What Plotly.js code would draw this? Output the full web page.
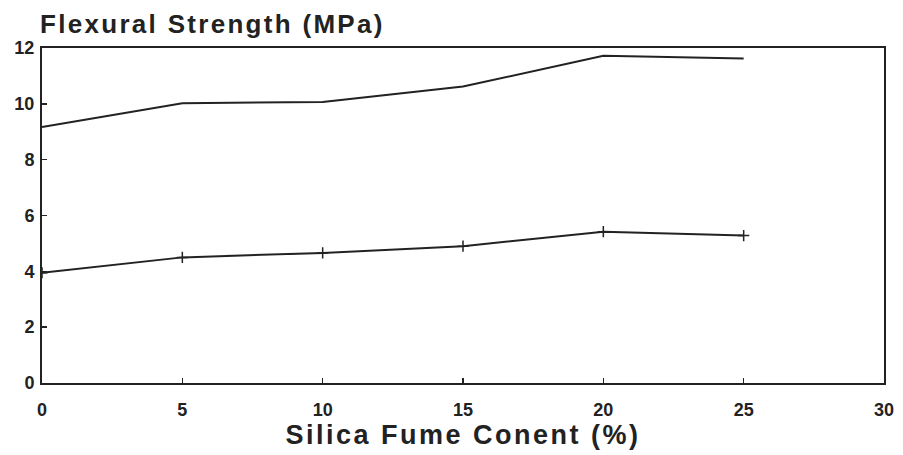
<!DOCTYPE html>
<html>
<head>
<meta charset="utf-8">
<script src="https://cdn.plot.ly/plotly-3.0.1.min.js"></script>
<style>html,body{margin:0;padding:0;background:#fff;}#chart{width:903px;height:455px;}
.xtitle{letter-spacing:2.5px;}
.annotation-text{letter-spacing:2.3px;}
</style>
</head>
<body>
<div id="chart"></div>
<script>
var silicaFume = [0, 5, 10, 15, 20, 25];
var upperStrength = [9.17, 10.02, 10.07, 10.62, 11.72, 11.62];
var lowerStrength = [3.95, 4.5, 4.66, 4.9, 5.42, 5.28];
var xTicks = [0, 5, 10, 15, 20, 25, 30];
var yTicks = [0, 2, 4, 6, 8, 10, 12];

var lineStyle = {color: '#222', width: 2};
var traces = [
  {x: silicaFume, y: upperStrength, mode: 'lines', line: lineStyle, showlegend: false, hoverinfo: 'skip'},
  {x: silicaFume, y: lowerStrength, mode: 'lines+markers', line: lineStyle,
   marker: {symbol: 'cross-thin', size: 8, line: {color: '#222', width: 1.5}}, showlegend: false, hoverinfo: 'skip'}
];

var fam = 'Liberation Sans, Arial, sans-serif';
var axisFont = {family: fam, size: 18, color: '#222', weight: 'bold'};
var layout = {
  width: 903, height: 455,
  margin: {l: 42, r: 19, t: 48, b: 72},
  paper_bgcolor: '#fff', plot_bgcolor: '#fff',
  showlegend: false,
  xaxis: {
    range: [0, 30], tickvals: xTicks, ticktext: xTicks.map(String),
    showgrid: false, zeroline: false, showline: true, mirror: true,
    linecolor: '#222', linewidth: 2, ticks: 'inside', ticklen: 5, tickcolor: '#222', tickwidth: 1.5,
    tickfont: axisFont, ticklabelstandoff: 9,
    title: {text: 'Silica Fume Conent (%)', font: {family: fam, size: 27, color: '#222', weight: 'bold'}, standoff: 4}
  },
  yaxis: {
    range: [0, 12], tickvals: yTicks, ticktext: yTicks.map(String),
    showgrid: false, zeroline: false, showline: true, mirror: true,
    linecolor: '#222', linewidth: 2, ticks: 'inside', ticklen: 5, tickcolor: '#222', tickwidth: 1.5,
    tickfont: axisFont, ticklabelstandoff: 2
  },
  annotations: [{
    text: 'Flexural Strength (MPa)', xref: 'paper', yref: 'paper', x: 0, y: 1, xanchor: 'left', yanchor: 'bottom',
    xshift: -4, yshift: 7, showarrow: false,
    font: {family: fam, size: 26, color: '#222', weight: 'bold'}
  }]
};
Plotly.newPlot('chart', traces, layout, {displayModeBar: false, staticPlot: true});
</script>
</body>
</html>
